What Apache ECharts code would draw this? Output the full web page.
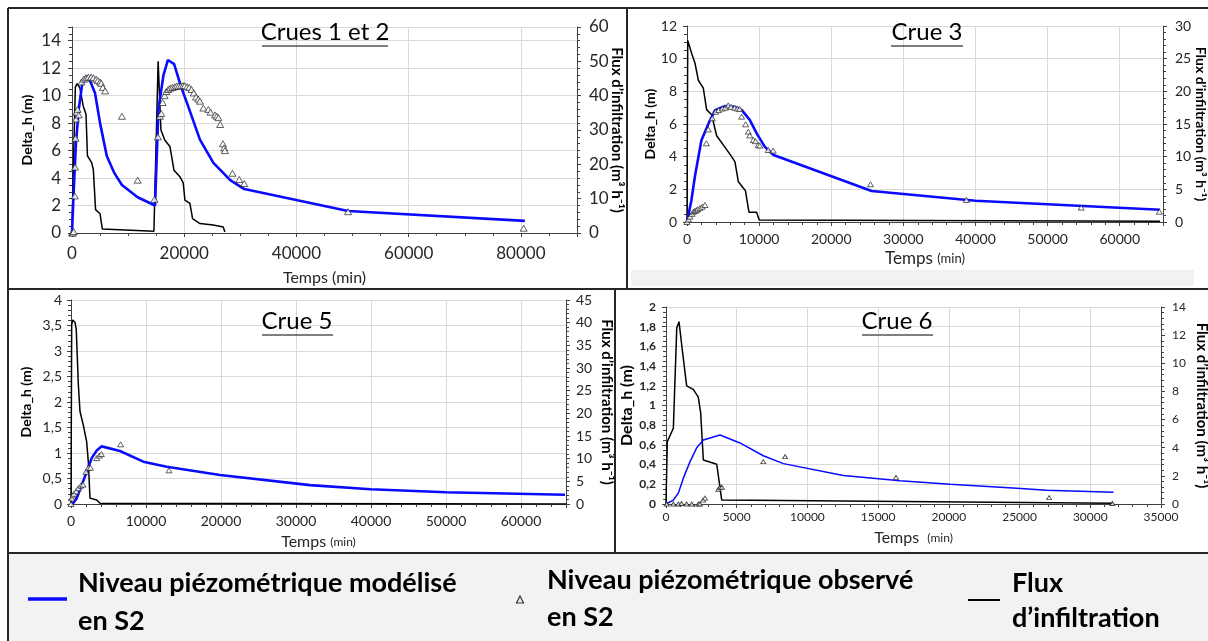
<!DOCTYPE html>
<html>
<head>
<meta charset="utf-8">
<title>Crues - niveau piézométrique et flux d'infiltration</title>
<script src="https://cdn.jsdelivr.net/npm/echarts@6.0.0/dist/echarts.min.js"></script>
<style>
    html, body { margin: 0; padding: 0; background: #fff; }
    #chart { width: 1208px; height: 641px; }
</style>
</head>
<body>
<div id="chart"></div>
<script>
// ---- Crues 1 et 2 : [temps (min), valeur]
const c12Model = [[0,0],[300,3],[700,6.5],[1200,9],[1800,10.8],[2500,11.4],[3300,11],[4100,10.2],[5000,8.0],[6200,5.6],[7500,4.4],[8900,3.5],[11700,2.6],[14800,2.0],[15100,2.1],[15400,9.0],[16300,11.5],[17100,12.6],[18200,12.3],[19400,10.7],[20900,9.0],[22800,6.8],[25200,5.1],[28200,3.85],[30700,3.2],[49200,1.6],[80700,0.88]];
const c12Obs = [[0,0],[150,0],[300,0.1],[500,2.7],[550,4.8],[620,6.9],[700,8.3],[800,8.8],[1000,9.0],[1200,8.6],[1700,11.0],[2100,11.2],[2500,11.3],[2900,11.35],[3400,11.35],[3800,11.3],[4300,11.2],[4600,11.1],[5000,11.0],[5200,10.9],[5500,10.6],[5900,10.35],[8900,8.5],[11700,3.85],[14700,2.45],[15300,7.0],[15650,8.5],[15900,8.7],[16150,9.5],[16500,10.0],[16800,10.3],[17150,10.45],[17500,10.55],[17900,10.6],[18300,10.65],[18650,10.7],[19000,10.7],[19400,10.72],[19800,10.73],[20100,10.72],[20500,10.65],[20900,10.6],[21300,10.45],[21700,10.2],[22100,9.9],[22500,9.75],[22800,9.6],[23400,9.1],[24300,9.0],[24700,8.8],[25500,8.6],[25800,8.5],[26100,8.4],[26400,7.9],[26900,6.5],[27100,6.2],[27250,6.0],[28600,4.35],[29800,3.9],[30700,3.6],[49200,1.55],[80500,0.35]];
const c12Flux = [[0,0],[250,20],[600,42.5],[900,43.5],[1400,42.3],[2000,37],[2500,34.5],[2750,22.5],[3500,20.5],[3800,18.5],[4200,6.8],[5000,5.6],[5400,1.2],[14600,0.5],[14700,0.5],[15350,50],[15850,30],[16550,27],[17450,25.2],[18170,18.3],[19230,16.4],[19820,14.6],[20120,9.6],[21010,8.6],[21490,4.2],[22800,2.75],[25170,2.3],[26950,1.75],[27250,0.3]];

// ---- Crue 3
const c3Model = [[0,0],[600,1.3],[1100,2.8],[2000,5.0],[3000,6.05],[3900,6.85],[5300,7.1],[6600,7.05],[7600,6.85],[8700,6.25],[9700,5.4],[10800,4.6],[12000,4.1],[25600,1.9],[40000,1.3],[65600,0.75]];
const c3Obs = [[0,0],[200,0.15],[420,0.33],[700,0.5],[880,0.63],[1100,0.68],[1300,0.72],[1480,0.78],[1800,0.85],[2120,0.94],[2490,1.04],[2680,4.82],[2950,5.67],[3500,6.35],[3970,6.75],[4400,6.86],[4900,6.95],[5300,7.0],[5720,7.14],[6100,7.05],[6600,7.0],[7000,6.95],[7300,6.92],[7570,6.45],[8130,5.98],[8500,5.53],[8700,5.3],[9190,5.02],[9500,4.95],[9880,4.71],[10100,4.68],[11260,4.41],[11950,4.37],[25440,2.31],[38740,1.35],[54660,0.88],[65500,0.63]];
const c3Flux = [[0,0],[100,27.8],[650,25.8],[1110,24.3],[1570,21.7],[2260,20.5],[2720,17.2],[3420,16.4],[4110,13.2],[5030,11.8],[6190,10.0],[6650,9.2],[7110,6.2],[7800,5.2],[8100,4.8],[8590,1.5],[9650,1.5],[10020,0.3],[65600,0.1]];

// ---- Crue 5
const c5Model = [[0,0],[300,0.02],[760,0.11],[1430,0.37],[2090,0.63],[2760,0.9],[3430,1.05],[4090,1.13],[6530,1.04],[9640,0.83],[12760,0.73],[19870,0.57],[31870,0.37],[39960,0.29],[49960,0.23],[65870,0.18]];
const c5Obs = [[0,0],[90,0.11],[250,0.17],[400,0.2],[700,0.25],[980,0.31],[1300,0.36],[1600,0.38],[2000,0.63],[2310,0.71],[2600,0.71],[3430,0.9],[3780,0.95],[4050,0.98],[6620,1.17],[13070,0.66]];
const c5Flux = [[0,0],[90,39.5],[220,40.6],[530,40.1],[700,38.5],[980,26.3],[1200,20.4],[1640,17.4],[2090,13.7],[2310,9.3],[2530,1.3],[3430,0.9],[3870,0.15],[66000,0]];

// ---- Crue 6
const c6Model = [[0,0],[520,0.04],[870,0.11],[1220,0.26],[1700,0.43],[2170,0.57],[2640,0.65],[3110,0.67],[3820,0.7],[5230,0.62],[6880,0.49],[8300,0.41],[12540,0.29],[16550,0.235],[20090,0.2],[24800,0.16],[26920,0.14],[31640,0.12]];
const c6Obs = [[50,0],[520,0],[870,0],[1100,0.005],[1460,0],[1820,0],[2290,0],[2400,0],[2620,0.04],[2760,0.06],[3700,0.15],[3820,0.17],[3950,0.17],[6880,0.43],[8420,0.48],[16260,0.27],[27090,0.065],[31560,0.005]];
const c6Flux = [[0,0],[90,4.43],[520,5.38],[760,12.5],[920,12.96],[1110,11.3],[1460,8.4],[1930,8.15],[2280,7.6],[2450,6.5],[2640,3.13],[3590,2.82],[3940,0.28],[31600,0.05]];

// axes : [max, intervalle]
const xScale = [[90000, 20000], [66000, 10000], [66000, 10000], [35000, 5000]];
const yLeftScale = [[15, 2], [12, 2], [4, 0.5], [2, 0.2]];
const yRightScale = [[60, 10], [30, 5], [45, 5], [14, 2]];
const titles = ['Crues 1 et 2', 'Crue 3', 'Crue 5', 'Crue 6'];

const FONT = 'Lato, "Noto Sans", sans-serif';
const AXIS_COLOR = '#404040';
const LABEL_COLOR = '#262626';
const GRID_COLOR = '#d9d9d9';
const BLUE = '#0a0aff';
const fluxName = 'Flux d\u2019infiltration (m\u00b3 h\u207b\u00b9)';

let comma = function (v) {
    return String(v).replace('.', ',');
};
let plain = function (v) {
    return String(v);
};

// one entry per panel : grid box, font sizes, gaps
const panels = [
    { grid: { left: 72, top: 27, width: 505, height: 206 }, tick: 17, xMargin: 12, yMargin: 11, rMargin: 12,
      xGap: 37, lGap: 38, rGap: 32, lName: 14, rName: 15, tName: 16, sName: 16, minorX: 4, minorL: 4, minorR: 5, hideX: true, hideL: true },
    { grid: { left: 687, top: 26, width: 476, height: 196 }, tick: 14, xMargin: 10, yMargin: 10, rMargin: 12,
      xGap: 28, lGap: 30, rGap: 31, lName: 14, rName: 14, tName: 17, sName: 13, minorX: 5, minorL: 4, minorR: 5, hideX: true, hideL: false },
    { grid: { left: 71, top: 300, width: 495, height: 204 }, tick: 14, xMargin: 10, yMargin: 9, rMargin: 10,
      xGap: 30, lGap: 38, rGap: 33, lName: 14, rName: 15, tName: 16, sName: 12, minorX: 5, minorL: 5, minorR: 5, hideX: true, hideL: false, comma: true },
    { grid: { left: 666, top: 307, width: 495, height: 197 }, tick: 12, xMargin: 7, yMargin: 10, rMargin: 11,
      xGap: 26, lGap: 31, rGap: 33, lName: 16, rName: 15, tName: 16, sName: 12, minorX: 5, minorL: 4, minorR: 5, hideX: false, hideL: false, comma: true }
];

function makeX(i) {
    let p = panels[i];
    return {
        gridIndex: i, type: 'value', min: 0, max: xScale[i][0], interval: xScale[i][1],
        name: 'Temps ' + (i === 3 ? ' ' : '') + '{s|(min)}', nameLocation: 'middle', nameGap: p.xGap, nameMoveOverlap: false,
        nameTextStyle: { fontFamily: FONT, fontSize: p.tName, color: LABEL_COLOR,
            rich: { s: { fontFamily: FONT, fontSize: p.sName, color: LABEL_COLOR } } },
        axisLine: { onZero: false, lineStyle: { color: AXIS_COLOR, width: 1 } },
        axisTick: { show: true, length: 4, lineStyle: { color: AXIS_COLOR } },
        minorTick: { show: true, splitNumber: p.minorX, length: 3, lineStyle: { color: AXIS_COLOR } },
        axisLabel: { fontFamily: FONT, fontSize: p.tick, color: LABEL_COLOR, margin: p.xMargin,
            showMaxLabel: !p.hideX, showMinLabel: true, formatter: plain },
        splitLine: { show: true, lineStyle: { color: GRID_COLOR, width: 1 } }
    };
}

function makeYLeft(i) {
    let p = panels[i];
    return {
        gridIndex: i, type: 'value', position: 'left', min: 0, max: yLeftScale[i][0], interval: yLeftScale[i][1],
        name: 'Delta_h (m)', nameLocation: 'middle', nameGap: p.lGap, nameMoveOverlap: false,
        nameTextStyle: { fontFamily: FONT, fontSize: p.lName, fontWeight: 'bold', color: '#000' },
        axisLine: { show: true, onZero: false, lineStyle: { color: AXIS_COLOR, width: 1 } },
        axisTick: { show: true, length: 4, lineStyle: { color: AXIS_COLOR } },
        minorTick: { show: true, splitNumber: p.minorL, length: 3, lineStyle: { color: AXIS_COLOR } },
        axisLabel: { fontFamily: FONT, fontSize: p.tick, color: LABEL_COLOR, margin: p.yMargin,
            showMaxLabel: !p.hideL, showMinLabel: true,
            fontWeight: i === 3 ? 'bold' : 'normal',
            formatter: p.comma ? comma : plain },
        splitLine: { show: true, lineStyle: { color: GRID_COLOR, width: 1 } }
    };
}

function makeYRight(i) {
    let p = panels[i];
    return {
        gridIndex: i, type: 'value', position: 'right', min: 0, max: yRightScale[i][0], interval: yRightScale[i][1],
        name: fluxName, nameLocation: 'middle', nameGap: p.rGap, nameRotate: -90, nameMoveOverlap: false,
        nameTextStyle: { fontFamily: FONT, fontSize: p.rName, fontWeight: 'bold', color: '#000' },
        axisLine: { show: true, onZero: false, lineStyle: { color: AXIS_COLOR, width: 1 } },
        axisTick: { show: true, length: 4, lineStyle: { color: AXIS_COLOR } },
        minorTick: { show: true, splitNumber: p.minorR, length: 3, lineStyle: { color: AXIS_COLOR } },
        axisLabel: { fontFamily: FONT, fontSize: p.tick, color: LABEL_COLOR, margin: p.rMargin,
            showMaxLabel: true, showMinLabel: true, formatter: plain },
        splitLine: { show: false }
    };
}

function lineSeries(i, yIdx, data, color, width, z) {
    return {
        type: 'line', xAxisIndex: i, yAxisIndex: yIdx, data: data,
        symbol: 'none', showSymbol: false, silent: true, z: z,
        lineStyle: { color: color, width: width }, itemStyle: { color: color }
    };
}

function obsSeries(i, data, size) {
    return {
        type: 'scatter', xAxisIndex: i, yAxisIndex: 2 * i, data: data,
        symbol: 'triangle', symbolSize: size, silent: true, z: 5,
        itemStyle: { color: '#ffffff', borderColor: '#222222', borderWidth: 0.9 }
    };
}

const models = [c12Model, c3Model, c5Model, c6Model];
const observed = [c12Obs, c3Obs, c5Obs, c6Obs];
const fluxes = [c12Flux, c3Flux, c5Flux, c6Flux];
const blueWidth = [2.6, 2.6, 2.6, 1.5];
const obsSize = [[7, 6], [6, 5], [6, 5], [5, 4]];

let grids = [], xAxes = [], yAxes = [], series = [];
for (let i = 0; i < 4; i++) {
    grids.push(Object.assign({ outerBoundsMode: 'none', containLabel: false }, panels[i].grid));
    xAxes.push(makeX(i));
    yAxes.push(makeYLeft(i));
    yAxes.push(makeYRight(i));
    series.push(lineSeries(i, 2 * i + 1, fluxes[i], '#000000', 1.5, 2));
    series.push(lineSeries(i, 2 * i, models[i], BLUE, blueWidth[i], 3));
    series.push(obsSeries(i, observed[i], obsSize[i]));
}

function txt(x, y, text, font, align) {
    return {
        type: 'text', x: x, y: y, z: 10,
        style: { text: text, font: font, fill: '#000',
            align: align || 'left', textAlign: align || 'left',
            verticalAlign: 'middle', textVerticalAlign: 'middle' }
    };
}
function seg(x1, y1, x2, y2, color, w) {
    return { type: 'line', z: 10, shape: { x1: x1, y1: y1, x2: x2, y2: y2 }, style: { stroke: color, lineWidth: w } };
}

const titleFont = '24px ' + FONT;
const legendFont = 'bold 27px ' + FONT;
// [centre x, centre y, underline start, underline end, underline y]
const titlePos = [[325, 32, 262, 388, 46], [927, 32, 891, 963, 46], [297, 321, 262, 333, 335], [897, 321, 862, 933, 335]];

let graphics = [
    { type: 'rect', z: -1, shape: { x: 8, y: 553, width: 1200, height: 88 }, style: { fill: '#f2f2f2' } },
    { type: 'rect', z: -1, shape: { x: 631, y: 270, width: 563, height: 16 }, style: { fill: '#f2f2f2' } },
    seg(8, 8, 1208, 8, '#262626', 2),
    seg(8, 8, 8, 641, '#262626', 2),
    seg(627, 8, 627, 289, '#262626', 2),
    seg(8, 289, 1208, 289, '#262626', 2),
    seg(615, 289, 615, 553, '#262626', 2),
    seg(8, 553, 1208, 553, '#262626', 2),
    // légende
    seg(28, 599, 67, 599, BLUE, 3.5),
    txt(78, 583, 'Niveau piézométrique modélisé', legendFont),
    txt(78, 621, 'en S2', legendFont),
    { type: 'polygon', z: 10, shape: { points: [[520, 596], [516.5, 603], [523.5, 603]] }, style: { fill: 'none', stroke: '#333', lineWidth: 1.2 } },
    txt(547, 580, 'Niveau piézométrique observé', legendFont),
    txt(547, 617, 'en S2', legendFont),
    seg(968, 600, 1000, 600, '#000', 2),
    txt(1012, 583, 'Flux', legendFont),
    txt(1012, 618, 'd\u2019infiltration', legendFont)
];
for (let i = 0; i < 4; i++) {
    let t = titlePos[i];
    graphics.push(txt(t[0], t[1], titles[i], titleFont, 'center'));
    graphics.push(seg(t[2], t[4], t[3], t[4], '#000', 1.2));
}

let chart = echarts.init(document.getElementById('chart'), null, { renderer: 'canvas' });
let option = {
    backgroundColor: '#ffffff',
    animation: false,
    grid: grids,
    xAxis: xAxes,
    yAxis: yAxes,
    series: series,
    graphic: graphics
};
chart.setOption(option);
</script>
</body>
</html>
